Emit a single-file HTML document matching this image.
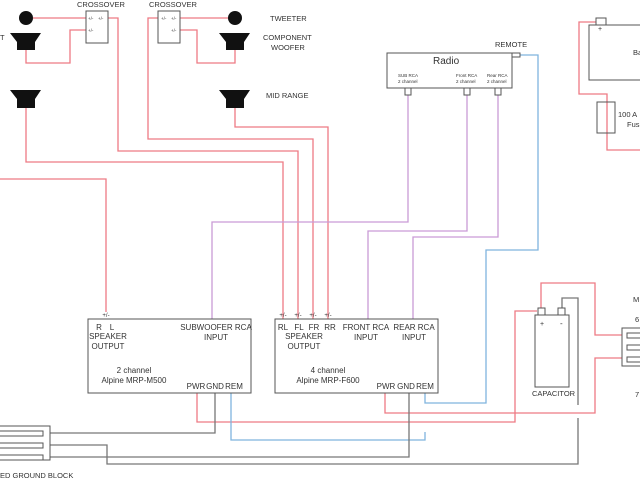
<!DOCTYPE html>
<html><head><meta charset="utf-8"><style>
html,body{margin:0;padding:0;background:#fff;width:640px;height:480px;overflow:hidden}
svg{display:block}
text{font-family:"Liberation Sans",sans-serif;fill:#333}
</style></head><body>
<svg width="640" height="480" viewBox="0 0 640 480" xmlns="http://www.w3.org/2000/svg">
<g fill="none" stroke-width="1.3">
<g stroke="#ee7a84">
<polyline points="33,18 86,18"/>
<polyline points="86,30 70,30 70,63 26,63 26,50"/>
<polyline points="108,18 118,18 118,151 298,151 298,320"/>
<polyline points="158,18 148,18 148,139 313,139 313,320"/>
<polyline points="228,18 180,18"/>
<polyline points="180,30 197,30 197,63 235,63 235,50"/>
<polyline points="26,108 26,162 283,162 283,320"/>
<polyline points="235,108 235,127 328,127 328,320"/>
<polyline points="0,179 106,179 106,312"/>
<polyline points="197,393 197,422 515,422 515,311 537,311"/>
<polyline points="541,309 541,283 595,283 595,335 622,335"/>
<polyline points="385,393 385,413 595,413 595,358 622,358"/>
<polyline points="599,22 579,22 579,94 607,94 607,150 640,150"/>
</g>
<g stroke="#c99bd6">
<polyline points="408,92 408,222 212,222 212,320"/>
<polyline points="467,92 467,231 368,231 368,320"/>
<polyline points="498,92 498,237 413,237 413,320"/>
</g>
<g stroke="#7fb4de">
<polyline points="520,55 538,55 538,250 486,250 486,403 425,403 425,393"/>
<polyline points="231,393 231,440 425,440 425,432"/>
</g>
<g stroke="#777">
<polyline points="50,433 215,433 215,393"/>
<polyline points="50,445 107,445 107,464 578,464 578,418"/>
<polyline points="50,457 409,457 409,393" />
<polyline points="562,309 562,298 578,298 578,405"/>
</g>
<g stroke="#555" stroke-width="1">
<rect x="86" y="11" width="22" height="32" fill="#fff"/>
<rect x="158" y="11" width="22" height="32" fill="#fff"/>
<rect x="88" y="319" width="163" height="74" fill="#fff"/>
<rect x="275" y="319" width="163" height="74" fill="#fff"/>
<rect x="387" y="53" width="125" height="35" fill="#fff"/>
<rect x="405" y="88" width="6" height="7" fill="#fff"/>
<rect x="464" y="88" width="6" height="7" fill="#fff"/>
<rect x="495" y="88" width="6" height="7" fill="#fff"/>
<rect x="512" y="53" width="8" height="4" fill="#fff"/>
<rect x="535" y="315" width="34" height="72" fill="#fff"/>
<rect x="538" y="308" width="7" height="7" fill="#fff"/>
<rect x="558" y="308" width="7" height="7" fill="#fff"/>
<rect x="589" y="25" width="60" height="55" fill="none"/>
<rect x="596" y="18" width="10" height="7" fill="#fff"/>
<rect x="597" y="102" width="18" height="31" fill="none"/>
<rect x="622" y="328" width="30" height="38" fill="#fff"/>
<rect x="627" y="333" width="20" height="5"/>
<rect x="627" y="345" width="20" height="5"/>
<rect x="627" y="357" width="20" height="5"/>
<rect x="-5" y="426" width="55" height="34" fill="#fff"/>
<rect x="-5" y="431" width="48" height="5"/>
<rect x="-5" y="443" width="48" height="5"/>
<rect x="-5" y="455" width="48" height="5"/>
</g>
</g>
<g fill="#111">
<circle cx="26" cy="18" r="7"/>
<circle cx="235" cy="18" r="7"/>
<polygon points="10,33 41,33 35,42 35,50 17,50 17,42"/>
<polygon points="219,33 250,33 244,42 244,50 226,50 226,42"/>
<polygon points="10,90 41,90 35,99 35,108 17,108 17,99"/>
<polygon points="219,90 250,90 244,99 244,108 226,108 226,99"/>
</g>
<g font-size="7.5">
<text x="77" y="7">CROSSOVER</text>
<text x="149" y="7">CROSSOVER</text>
<text x="270" y="21">TWEETER</text>
<text x="263" y="40">COMPONENT</text>
<text x="271" y="50">WOOFER</text>
<text x="266" y="98">MID RANGE</text>
<text x="0" y="40">T</text>
<text x="495" y="47">REMOTE</text>
<text x="532" y="396">CAPACITOR</text>
<text x="618" y="117">100 A</text>
<text x="627" y="127">Fus</text>
<text x="633" y="55">Ba</text>
<text x="633" y="302">M</text>
<text x="635" y="322">6</text>
<text x="635" y="397">7</text>
<text x="0" y="478">ED GROUND BLOCK</text>
</g>
<g font-size="6" text-anchor="middle">
<text x="106" y="317">+/-</text>
<text x="283" y="317">+/-</text>
<text x="298" y="317">+/-</text>
<text x="313" y="317">+/-</text>
<text x="328" y="317">+/-</text>
</g>
<g font-size="8" text-anchor="middle">
<text x="99" y="330">R</text>
<text x="112" y="330">L</text>
<text x="108" y="339">SPEAKER</text>
<text x="108" y="349">OUTPUT</text>
<text x="216" y="330">SUBWOOFER RCA</text>
<text x="216" y="340">INPUT</text>
<text x="134" y="373">2 channel</text>
<text x="134" y="383">Alpine MRP-M500</text>
<text x="196" y="389">PWR</text>
<text x="215" y="389">GND</text>
<text x="234" y="389">REM</text>
<text x="283" y="330">RL</text>
<text x="299" y="330">FL</text>
<text x="314" y="330">FR</text>
<text x="330" y="330">RR</text>
<text x="304" y="339">SPEAKER</text>
<text x="304" y="349">OUTPUT</text>
<text x="366" y="330">FRONT RCA</text>
<text x="366" y="340">INPUT</text>
<text x="414" y="330">REAR RCA</text>
<text x="414" y="340">INPUT</text>
<text x="328" y="373">4 channel</text>
<text x="328" y="383">Alpine MRP-F600</text>
<text x="386" y="389">PWR</text>
<text x="406" y="389">GND</text>
<text x="425" y="389">REM</text>
</g>
<g font-size="4.5">
<text x="88" y="20">+/-</text><text x="98" y="20">+/-</text>
<text x="88" y="32">+/-</text>
<text x="161" y="20">+/-</text><text x="171" y="20">+/-</text>
<text x="171" y="32">+/-</text>
<text x="398" y="77">SUB RCA</text><text x="398" y="83">2 channel</text>
<text x="456" y="77">Front RCA</text><text x="456" y="83">2 channel</text>
<text x="487" y="77">Rear RCA</text><text x="487" y="83">2 channel</text>
</g>
<text x="433" y="64" font-size="10">Radio</text>
<text x="540" y="326" font-size="7">+</text>
<text x="560" y="326" font-size="8">-</text>
<text x="598" y="31" font-size="7">+</text>
</svg>
</body></html>
